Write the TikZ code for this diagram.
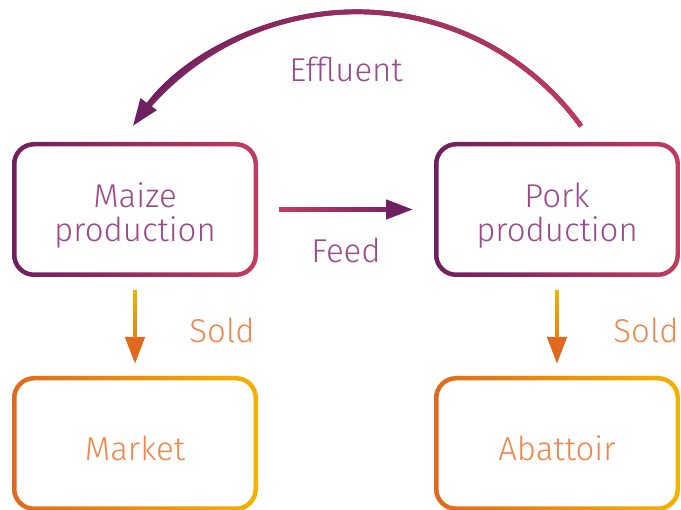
\documentclass[tikz,border=0pt]{standalone}
\usepackage{fontspec}
\setmainfont{Fira Sans Light}
\usetikzlibrary{arrows.meta,decorations.markings}
\definecolor{cpurple}{HTML}{6E1F60}
\definecolor{cpink}{HTML}{C23C5E}
\definecolor{corange}{HTML}{E1691E}
\definecolor{cyellow}{HTML}{F2B300}
\definecolor{tpurple}{HTML}{9A4A8B}
\definecolor{torange}{HTML}{EE874B}
\newcommand\gradring[3]{%
  \shade[even odd rule, left color=#2, right color=#3, rounded corners=22pt]
    (#1.south west) rectangle (#1.north east)
    [rounded corners=17.5pt]
    ([shift={(4.5pt,4.5pt)}]#1.south west) rectangle ([shift={(-4.5pt,-4.5pt)}]#1.north east);}
\newcommand\topstrut[1]{\rule{0pt}{#1}}
\tikzset{
  box/.style={minimum width=246pt, minimum height=135pt, inner sep=0pt, outer sep=0pt,
    align=center, font=\fontsize{33}{34}\selectfont},
  ptext/.style={text=tpurple},
  otext/.style={text=torange},
  lbl/.style={font=\fontsize{33}{34}\selectfont, inner sep=0pt, anchor=base},
  gradarrow/.style 2 args={line width=4.7pt, draw=#2, -{Triangle[length=27pt,width=19pt]},
    postaction={decorate, decoration={markings,
      mark=between positions 0 and 1 step 0.5pt with {%
        \pgfmathsetmacro\gpos{\pgfkeysvalueof{/pgf/decoration/mark info/distance from start}}%
        \pgfmathtruncatemacro\gok{(\gpos < \pgfdecoratedpathlength-26) ? 1 : 0}%
        \ifnum\gok=1
          \pgfmathsetmacro\gfrac{100*(\gpos/\pgfdecoratedpathlength)}%
          \fill[#2!\gfrac!#1] (-0.4pt,-2.35pt) rectangle (0.4pt,2.35pt);%
        \fi}}}},
}
\begin{document}
\begin{tikzpicture}[x=1pt,y=1pt]
\useasboundingbox (0,0) rectangle (681,510);
\node[box,ptext] (maize) at (135,300.5) {\topstrut{37pt}Maize\\production};
\node[box,ptext] (pork) at (557,300.5) {\topstrut{37pt}Pork\\production};
\node[box,otext] (market) at (135,66.5) {\topstrut{35pt}Market};
\node[box,otext] (abattoir) at (557,66.5) {\topstrut{35pt}Abattoir};
\gradring{maize}{cpurple}{cpink}
\gradring{pork}{cpurple}{cpink}
\gradring{market}{corange}{cyellow}
\gradring{abattoir}{corange}{cyellow}
\coordinate (es) at ([shift={(24pt,16pt)}]pork.north);
\draw[gradarrow={cpink}{cpurple}] (es) arc[start angle=36, end angle=144, radius=277pt];
\draw[gradarrow={cpink}{cpurple}] ([xshift=21pt]maize.east) -- ([xshift=-21pt]pork.west);
\draw[gradarrow={cyellow}{corange}] ([yshift=-13pt]maize.south) -- ([yshift=12pt]market.north);
\draw[gradarrow={cyellow}{corange}] ([yshift=-13pt]pork.south) -- ([yshift=12pt]abattoir.north);
\node[lbl,ptext] (eff) at (346,428) {Effluent};
\node[lbl,ptext] (feed) at (346,247) {Feed};
\node[lbl,otext] (sold1) at (222,167) {Sold};
\node[lbl,otext] (sold2) at (646,167) {Sold};
\end{tikzpicture}
\end{document}
